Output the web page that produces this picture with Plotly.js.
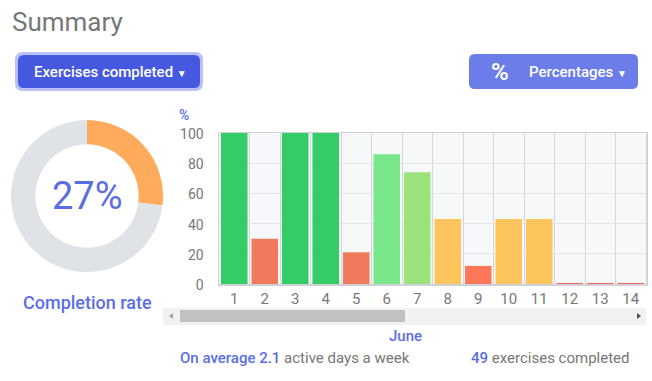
<!DOCTYPE html>
<html><head><meta charset="utf-8">
<script src="https://cdn.plot.ly/plotly-3.0.1.min.js"></script>
<style>html,body{margin:0;padding:0;background:#fff;}#chart{width:652px;height:381px;}</style>
</head><body><div id="chart"></div>
<script>
const days = [1,2,3,4,5,6,7,8,9,10,11,12,13,14];
const dayLabels = ["1","2","3","4","5","6","7","8","9","10","11","12","13","14"];
const completion = [100, 30, 100, 100, 21, 86, 74, 43, 12, 43, 43, 0.7, 0.7, 0.7];
const barColors = ["#34cc66","#ef7b5c","#34cc66","#34cc66","#ef7b5c","#7ae78a","#9ae37b","#fdc55c","#ff7759","#fdc55c","#fdc55c","#f26a5a","#f26a5a","#f26a5a"];
const donutLabels = ["Completed","Remaining"];
const donutValues = [27, 73];
const yTicks = [0,20,40,60,80,100];

const W = 652, H = 381;
const px = x => x / W, py = y => 1 - y / H;
function rrect(x0, y0, x1, y1, r) {
  const P = (x, y) => `${px(x)} ${py(y)}`;
  return `M ${P(x0 + r, y0)} L ${P(x1 - r, y0)} Q ${P(x1, y0)} ${P(x1, y0 + r)} L ${P(x1, y1 - r)} Q ${P(x1, y1)} ${P(x1 - r, y1)} ` +
         `L ${P(x0 + r, y1)} Q ${P(x0, y1)} ${P(x0, y1 - r)} L ${P(x0, y0 + r)} Q ${P(x0, y0)} ${P(x0 + r, y0)} Z`;
}

const traces = [
  {type:'bar', x: days, y: completion, marker:{color: barColors}, hoverinfo:'skip', xaxis:'x', yaxis:'y'},
  {type:'pie', labels: donutLabels, values: donutValues, hole: 0.68, sort:false, direction:'clockwise', rotation:0,
   marker:{colors:['#ffab5c','#dfe2e6']}, textinfo:'none', hoverinfo:'skip', showlegend:false,
   domain:{x:[px(11), px(163)], y:[py(272), py(120)]}}
];

const layout = {
  width: W, height: H,
  margin:{l:0, r:0, t:0, b:0, pad:0},
  paper_bgcolor:'#ffffff', plot_bgcolor:'#f7f8fa',
  showlegend:false,
  bargap:0.13,
  font:{family:'Roboto, sans-serif', color:'#777'},
  xaxis:{domain:[px(219), px(646)], range:[0.5,14.5], tickmode:'array', tickvals: days, ticktext: dayLabels, showgrid:false,
    zeroline:false, showline:true, mirror:true, linecolor:'#cfd2d8', linewidth:1.5, automargin:false,
    tickfont:{size:15, color:'#777'}, ticks:'', fixedrange:true,
    minor:{tick0:0.5, dtick:1, showgrid:true, gridcolor:'#d3d6dc', gridwidth:1, ticks:''}},
  yaxis:{domain:[py(284), py(133)], range:[0,100], tickmode:'array', tickvals: yTicks, showgrid:true, gridcolor:'#e2e4e9',
    zeroline:false, showline:true, mirror:true, linecolor:'#cfd2d8', linewidth:1.5, automargin:false,
    tickfont:{size:14, color:'#777'}, ticks:'', ticklabelstandoff:11, ticklabelshift:1, fixedrange:true},
  shapes:[
    {type:'path', xref:'paper', yref:'paper', path: rrect(15, 52, 203, 91, 8),
     fillcolor:'#b9c1f7', line:{width:0}, layer:'above'},
    {type:'path', xref:'paper', yref:'paper', path: rrect(18, 55, 200, 88, 6),
     fillcolor:'#4558e0', line:{width:0}, layer:'above'},
    {type:'path', xref:'paper', yref:'paper', path: rrect(469, 54, 638, 89, 6),
     fillcolor:'#6b7de8', line:{width:0}, layer:'above'},
    {type:'rect', xref:'paper', yref:'paper', x0:px(163), x1:px(646), y0:py(325), y1:py(308),
     fillcolor:'#f1f1f1', line:{width:0}},
    {type:'rect', xref:'paper', yref:'paper', x0:px(180), x1:px(405), y0:py(322), y1:py(310),
     fillcolor:'#c1c1c1', line:{width:0}},
    {type:'path', xref:'paper', yref:'paper', path:`M ${px(169)} ${py(316)} L ${px(173)} ${py(313)} L ${px(173)} ${py(319)} Z`,
     fillcolor:'#a3a3a3', line:{width:0}},
    {type:'path', xref:'paper', yref:'paper', path:`M ${px(641)} ${py(316)} L ${px(637)} ${py(313)} L ${px(637)} ${py(319)} Z`,
     fillcolor:'#505050', line:{width:0}}
  ],
  annotations:[
    {text:'Summary', xref:'paper', yref:'paper', x:px(10), y:py(22), xanchor:'left', yanchor:'middle', showarrow:false,
     font:{size:26, color:'#777', family:'Roboto, sans-serif'}},
    {text:'Exercises completed <span style="font-size:10px">▼</span>', xref:'paper', yref:'paper', x:px(110), y:py(72), xanchor:'center', yanchor:'middle', showarrow:false,
     font:{size:15, color:'#ffffff', family:'Roboto, sans-serif', weight:500}},
    {text:'%', xref:'paper', yref:'paper', x:px(500), y:py(72), xanchor:'center', yanchor:'middle', showarrow:false,
     font:{size:24, color:'#ffffff', family:'Roboto, sans-serif', weight:500}},
    {text:'Percentages <span style="font-size:10px">▼</span>', xref:'paper', yref:'paper', x:px(578), y:py(72), xanchor:'center', yanchor:'middle', showarrow:false,
     font:{size:15, color:'#ffffff', family:'Roboto, sans-serif', weight:500}},
    {text:'27%', xref:'paper', yref:'paper', x:px(87), y:py(196), xanchor:'center', yanchor:'middle', showarrow:false,
     font:{size:38, color:'#5b6ee1', family:'Roboto, sans-serif'}},
    {text:'Completion rate', xref:'paper', yref:'paper', x:px(87), y:py(302), xanchor:'center', yanchor:'middle', showarrow:false,
     font:{size:18, color:'#5b6ee6', family:'Roboto, sans-serif', weight:500}},
    {text:'%', xref:'paper', yref:'paper', x:px(184), y:py(115), xanchor:'center', yanchor:'middle', showarrow:false,
     font:{size:14, color:'#5b6ee6', family:'Roboto, sans-serif', weight:500}},
    {text:'June', xref:'paper', yref:'paper', x:px(405), y:py(336), xanchor:'center', yanchor:'middle', showarrow:false,
     font:{size:15, color:'#5b6ee6', family:'Roboto, sans-serif', weight:500}},
    {text:'<span style="color:#5b6ee6;font-weight:500">On average 2.1</span> active days a week', xref:'paper', yref:'paper',
     x:px(178), y:py(358), xanchor:'left', yanchor:'middle', showarrow:false,
     font:{size:15, color:'#777', family:'Roboto, sans-serif'}},
    {text:'<span style="color:#5b6ee6;font-weight:500">49</span> exercises completed', xref:'paper', yref:'paper',
     x:px(632), y:py(358), xanchor:'right', yanchor:'middle', showarrow:false,
     font:{size:15, color:'#777', family:'Roboto, sans-serif'}}
  ]
};
Plotly.newPlot('chart', traces, layout, {displayModeBar:false, staticPlot:true});
</script></body></html>
